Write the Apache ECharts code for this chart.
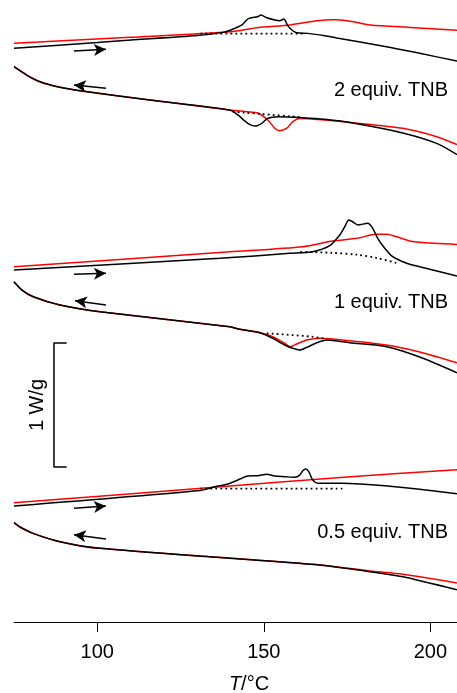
<!DOCTYPE html>
<html>
<head>
<meta charset="utf-8">
<title>DSC traces</title>
<script src="https://cdn.jsdelivr.net/npm/echarts@6/dist/echarts.min.js"></script>
<style>
  html, body { margin: 0; padding: 0; background: #fff; }
  #chart { width: 457px; height: 693px; }
</style>
</head>
<body>
<div id="chart"></div>
<script>
// temperature in °C, heat flow offset in W/g (curves are stacked)
const tickValues = [100, 150, 200]

// 2 equiv. TNB
const heat2Red = [[75, 4.667], [110, 4.715], [140, 4.760], [148, 4.793], [158, 4.815], [166, 4.848], [171, 4.856], [176, 4.845], [182, 4.815], [194, 4.795], [208, 4.772]]
const heat2Black = [[75, 4.627], [100, 4.673], [108, 4.69], [130, 4.729], [138, 4.757], [141.3, 4.788], [143.4, 4.815], [145.2, 4.863], [146.4, 4.873], [148.2, 4.881], [149.1, 4.895], [150.9, 4.873], [153.3, 4.855], [154.8, 4.849], [156, 4.863], [157.2, 4.809], [158.4, 4.774], [159.9, 4.752], [163.2, 4.747], [168.3, 4.728], [171.9, 4.710], [186.8, 4.640], [196.8, 4.586], [208, 4.524]]
const base2Heat = [[131, 4.745], [162, 4.745]]
const cool2Red = [[75, 4.478], [78.8, 4.411], [82.8, 4.357], [88.8, 4.312], [94.8, 4.285], [115.8, 4.210], [139.8, 4.129], [145, 4.115], [148.2, 4.105], [151.2, 4.048], [153.3, 3.982], [154.8, 3.962], [156.9, 3.982], [158.7, 4.035], [160.8, 4.061], [168.3, 4.048], [176.7, 4.027], [191.7, 3.981], [201.9, 3.914], [208, 3.85]]
const cool2Black = [[75, 4.478], [78.8, 4.411], [82.8, 4.357], [88.8, 4.312], [94.8, 4.285], [115.8, 4.210], [139.8, 4.129], [142.2, 4.089], [145.2, 4.022], [147.3, 4.0], [149.4, 4.022], [151.2, 4.062], [154.2, 4.075], [161.7, 4.067], [168.3, 4.054], [176.7, 4.024], [191.7, 3.944], [201.9, 3.860], [208, 3.77]]
const base2Cool = [[140.7, 4.115], [160.8, 4.072]]

// 1 equiv. TNB
const heat1Red = [[75, 2.865], [139.8, 2.986], [161.7, 3.027], [170.7, 3.073], [177.9, 3.094], [183.9, 3.127], [186.9, 3.127], [190.8, 3.099], [193.8, 3.073], [196.8, 3.062], [208, 3.044]]
const heat1Black = [[75, 2.839], [136.8, 2.933], [157.8, 2.973], [164.7, 2.986], [169.8, 3.035], [172.8, 3.121], [174.3, 3.188], [175.5, 3.242], [176.7, 3.228], [178.2, 3.202], [181.2, 3.215], [182.7, 3.175], [184.2, 3.094], [186.3, 3.014], [188.7, 2.946], [192.9, 2.893], [196.8, 2.865], [208, 2.79]]
const base1Heat = [[161, 2.985], [170, 2.978], [178, 2.962], [184, 2.935], [190.5, 2.89]]
const cool1Red = [[75, 2.744], [77.4, 2.677], [80.8, 2.623], [88.8, 2.556], [100.8, 2.502], [139.8, 2.381], [142.8, 2.360], [148.8, 2.333], [152.7, 2.301], [156.3, 2.248], [157.8, 2.220], [159.9, 2.242], [162.9, 2.274], [166.8, 2.288], [175.8, 2.269], [186.9, 2.234], [196.8, 2.177], [208, 2.09]]
const cool1Black = [[75, 2.744], [77.4, 2.677], [80.8, 2.623], [88.8, 2.556], [100.8, 2.502], [139.8, 2.381], [142.8, 2.360], [148.8, 2.333], [152.7, 2.288], [156.3, 2.234], [158.7, 2.207], [160.8, 2.194], [162.9, 2.215], [165.9, 2.252], [168.9, 2.274], [175.8, 2.252], [186.9, 2.220], [196.8, 2.137], [208, 2.01]]
const base1Cool = [[150.9, 2.328], [164.4, 2.301], [168.9, 2.282]]

// 0.5 equiv. TNB
const heat05Red = [[75, 0.962], [137, 1.09], [175, 1.17], [208, 1.228]]
const heat05Black = [[75, 0.935], [130.8, 1.06], [135.3, 1.091], [139.2, 1.113], [142.2, 1.145], [145.2, 1.177], [148.2, 1.180], [150.9, 1.191], [153.3, 1.177], [156.3, 1.172], [159.3, 1.167], [160.8, 1.185], [161.7, 1.220], [162.6, 1.234], [163.5, 1.212], [164.7, 1.145], [166.2, 1.119], [173.4, 1.119], [208, 1.035]]
const base05Heat = [[131, 1.075], [174, 1.075]]
const cool05Red = [[75, 0.801], [76.8, 0.766], [80.7, 0.715], [88.8, 0.648], [100.8, 0.594], [139.8, 0.514], [166.8, 0.460], [181.8, 0.411], [191.7, 0.385], [208, 0.315]]
const cool05Black = [[75, 0.801], [76.8, 0.766], [80.7, 0.715], [88.8, 0.648], [100.8, 0.594], [139.8, 0.514], [166.8, 0.460], [181.8, 0.406], [191.7, 0.365], [208, 0.26]]

// 1 W/g scale bar
const scaleBar = [[90.8, 2.25], [87, 2.25], [87, 1.25], [90.8, 1.25]]

// direction arrows: [tail, head]
const arrows = [
  [[93, 4.605], [102.6, 4.618]],
  [[102.6, 4.304], [93, 4.331]],
  [[93, 2.804], [102.6, 2.812]],
  [[102.6, 2.556], [93.3, 2.591]],
  [[93, 0.917], [102.6, 0.935]],
  [[102.6, 0.669], [93, 0.704]]
]

const FONT = "'Liberation Sans', Arial, sans-serif"

function curve(data, color, dotted) {
  return {
    type: 'line',
    data: data,
    showSymbol: false,
    smooth: dotted ? 0.3 : 0.25,
    silent: true,
    lineStyle: {
      color: color,
      width: dotted ? 1.8 : 1.5,
      type: dotted ? [1.8, 3.2] : 'solid'
    },
    z: dotted ? 3 : (color === '#000' ? 2 : 1)
  }
}

const chart = echarts.init(document.getElementById('chart'))

chart.setOption({
  animation: false,
  backgroundColor: '#fff',
  grid: { left: 14, right: 0, top: 2, bottom: 71 },
  xAxis: {
    type: 'value',
    min: 75,
    max: 208,
    axisLine: { lineStyle: { color: '#000', width: 1 } },
    axisTick: { customValues: tickValues, length: 10, lineStyle: { color: '#000', width: 1 } },
    axisLabel: { customValues: tickValues, color: '#000', fontSize: 20, fontFamily: FONT, margin: 20 },
    splitLine: { show: false }
  },
  yAxis: { type: 'value', min: 0, max: 5, show: false },
  series: [
    curve(heat2Red, '#f00'), curve(heat2Black, '#000'), curve(base2Heat, '#000', true),
    curve(cool2Red, '#f00'), curve(cool2Black, '#000'), curve(base2Cool, '#000', true),
    curve(heat1Red, '#f00'), curve(heat1Black, '#000'), curve(base1Heat, '#000', true),
    curve(cool1Red, '#f00'), curve(cool1Black, '#000'), curve(base1Cool, '#000', true),
    curve(heat05Red, '#f00'), curve(heat05Black, '#000'), curve(base05Heat, '#000', true),
    curve(cool05Red, '#f00'), curve(cool05Black, '#000'),
    {
      type: 'line',
      data: scaleBar,
      showSymbol: false,
      silent: true,
      lineStyle: { color: '#000', width: 1.5 }
    },
    {
      type: 'line',
      data: [],
      silent: true,
      markLine: {
        silent: true,
        symbol: ['none', 'arrow'],
        symbolSize: [9, 12],
        label: { show: false },
        lineStyle: { color: '#000', width: 1.5, type: 'solid' },
        data: arrows.map(a => [{ coord: a[0] }, { coord: a[1] }])
      }
    }
  ],
  graphic: [
    { type: 'text', x: 448, y: 90, style: { text: '2 equiv. TNB', font: '20px ' + FONT, fill: '#000', align: 'right', verticalAlign: 'middle' } },
    { type: 'text', x: 448, y: 302, style: { text: '1 equiv. TNB', font: '20px ' + FONT, fill: '#000', align: 'right', verticalAlign: 'middle' } },
    { type: 'text', x: 448, y: 532, style: { text: '0.5 equiv. TNB', font: '20px ' + FONT, fill: '#000', align: 'right', verticalAlign: 'middle' } },
    { type: 'text', x: 37, y: 405, rotation: Math.PI / 2, style: { text: '1 W/g', font: '20px ' + FONT, fill: '#000', align: 'center', verticalAlign: 'middle' } },
    {
      type: 'text', x: 249, y: 684,
      style: {
        text: '{i|T}/°C', font: '20px ' + FONT, fill: '#000', align: 'center', verticalAlign: 'middle',
        rich: { i: { fontStyle: 'italic', fontSize: 20, fontFamily: FONT } }
      }
    }
  ]
})
</script>
</body>
</html>
